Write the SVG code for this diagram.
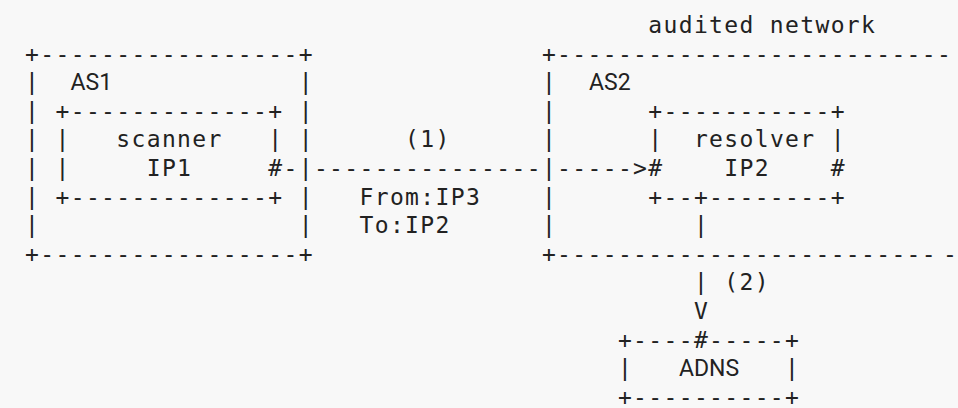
<svg xmlns="http://www.w3.org/2000/svg" width="958" height="408" viewBox="0 0 958 408">
<style>
.m{font-family:"DejaVu Sans Mono","Liberation Mono",monospace;font-size:23px;letter-spacing:1.35px;fill:#222;white-space:pre}
.p{font-family:Roboto,"Liberation Sans",sans-serif;font-size:23px;fill:#222}
</style>
<rect width="958" height="408" fill="#f8f8f8"/>
<g id="title"><text class="m" x="648.3" y="33" xml:space="preserve">audited network</text></g>
<g id="as1">
<text class="m" x="25.1" y="61.6">+-----------------+</text>
<text class="m" x="25.1" y="90.2">|</text><text class="m" x="298.7" y="90.2">|</text>
<text class="m" x="25.1" y="118.8">|</text><text class="m" x="298.7" y="118.8">|</text>
<text class="m" x="25.1" y="147.4">|</text><text class="m" x="298.7" y="147.4">|</text>
<text class="m" x="25.1" y="176">|</text><text class="m" x="298.7" y="176">|</text>
<text class="m" x="25.1" y="204.6">|</text><text class="m" x="298.7" y="204.6">|</text>
<text class="m" x="25.1" y="233.2">|</text><text class="m" x="298.7" y="233.2">|</text>
<text class="m" x="25.1" y="261.8">+-----------------+</text>
<text class="p" x="70.5" y="90.2">AS1</text>
</g>
<g id="scanner">
<text class="m" x="55.5" y="118.8">+-------------+</text>
<text class="m" x="55.5" y="147.4">|</text><text class="m" x="268.3" y="147.4">|</text>
<text class="m" x="55.5" y="176">|</text><text class="m" x="268.3" y="176">#</text>
<text class="m" x="55.5" y="204.6">+-------------+</text>
<text class="m" x="116.3" y="147.4">scanner</text>
<text class="m" x="146.7" y="176">IP1</text>
</g>
<g id="as2">
<text class="m" x="541.9" y="61.6">+--------------------------</text>
<text class="m" x="541.9" y="90.2">|</text>
<text class="m" x="541.9" y="118.8">|</text>
<text class="m" x="541.9" y="147.4">|</text>
<text class="m" x="541.9" y="176">|</text>
<text class="m" x="541.9" y="204.6">|</text>
<text class="m" x="541.9" y="233.2">|</text>
<text class="m" x="541.9" y="261.8">+-------------------------</text>
<text class="m" x="943" y="261.8">-</text>
<text class="p" x="589" y="90.2">AS2</text>
</g>
<g id="resolver">
<text class="m" x="648.3" y="118.8">+-----------+</text>
<text class="m" x="648.3" y="147.4">|</text><text class="m" x="830.7" y="147.4">|</text>
<text class="m" x="648.3" y="176">#</text><text class="m" x="830.7" y="176">#</text>
<text class="m" x="648.3" y="204.6">+--+--------+</text>
<text class="m" x="693.9" y="147.4">resolver</text>
<text class="m" x="724.3" y="176">IP2</text>
</g>
<g id="adns">
<text class="m" x="617.9" y="347.6">+----#-----+</text>
<text class="m" x="617.9" y="376.2">|</text><text class="m" x="785.1" y="376.2">|</text>
<text class="m" x="617.9" y="404.8">+----------+</text>
<text class="p" x="679" y="376.2">ADNS</text>
</g>
<g id="connectors">
<text class="m" x="283.5" y="176">-</text>
<text class="m" x="313.9" y="176">---------------</text>
<text class="m" x="557.1" y="176">-----&gt;</text>
<text class="m" x="405.1" y="147.4">(1)</text>
<text class="m" x="359.5" y="204.6">From:IP3</text>
<text class="m" x="359.5" y="233.2">To:IP2</text>
<text class="m" x="693.9" y="233.2">|</text>
<text class="m" x="693.9" y="290.4">|</text>
<text class="m" x="724.3" y="290.4">(2)</text>
<text class="m" x="693.9" y="319">V</text>
</g>
</svg>
